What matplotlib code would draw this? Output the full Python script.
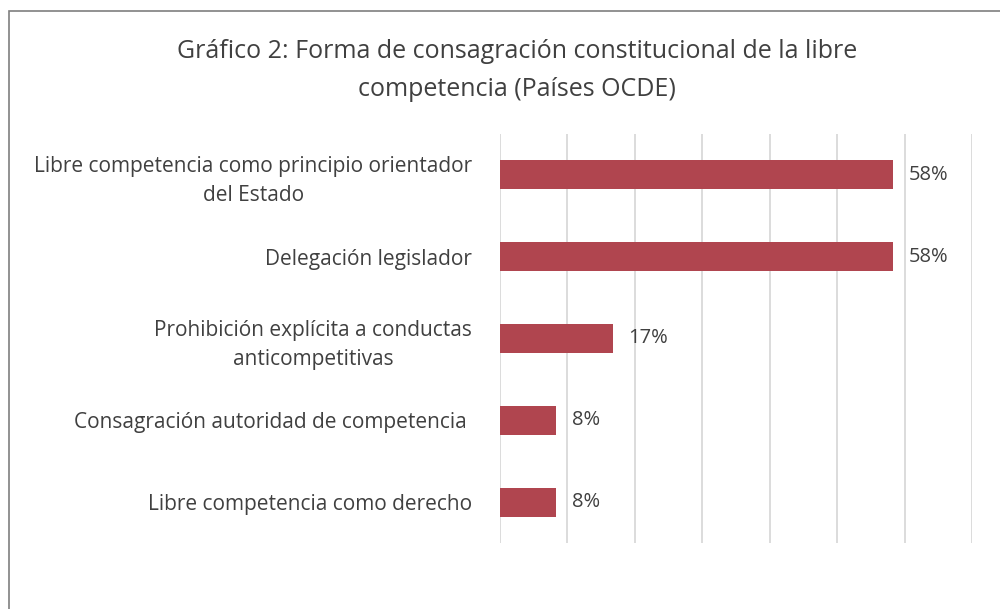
import numpy as np
import matplotlib.pyplot as plt
from matplotlib.patches import Rectangle

categories = [
    "Libre competencia como principio orientador\ndel Estado",
    "Delegación legislador",
    "Prohibición explícita a conductas\nanticompetitivas",
    "Consagración autoridad de competencia ",
    "Libre competencia como derecho",
]
values = [58.3, 58.3, 16.7, 8.3, 8.3]
value_labels = ["58%", "58%", "17%", "8%", "8%"]
title = "Gráfico 2: Forma de consagración constitucional de la libre\ncompetencia (Países OCDE)"

bar_color = "#B0454F"
text_color = "#404040"

plt.rcParams['font.family'] = ['Open Sans', 'DejaVu Sans']

fig = plt.figure(figsize=(10, 6.09), dpi=100)
ax = fig.add_axes([0.5, 0.1084, 0.472, 0.6716])

y = np.arange(len(categories))
ax.barh(y, values, height=0.355, color=bar_color, zorder=3)
ax.set_xlim(0, 70)
ax.set_ylim(len(categories) - 0.5, -0.5)
ax.set_xticks(np.arange(0, 71, 10))
ax.xaxis.grid(True, color="#D9D9D9", linewidth=1.3, zorder=0)
ax.tick_params(axis="x", length=0, labelbottom=False)
ax.tick_params(axis="y", length=0, pad=20, labelsize=15, labelcolor=text_color)
ax.set_yticks(y)
ax.set_yticklabels(categories)
for lab in ax.get_yticklabels():
    lab.set_multialignment("center")
    lab.set_linespacing(1.5)
for s in ax.spines.values():
    s.set_visible(False)

for yi, v, lab in zip(y, values, value_labels):
    ax.annotate(lab, (v, yi), xytext=(16, 0), textcoords="offset pixels",
                va="center", ha="left", fontsize=14.5, color=text_color)

fig.text(0.517, 0.884, title, ha="center", va="center", fontsize=18,
         color=text_color, linespacing=1.7)

# outer frame of the chart area
fig.patches.append(Rectangle((0.009, -0.1), 1.2, 1.1 - 0.018, transform=fig.transFigure,
                             fill=False, edgecolor="#7F7F7F", linewidth=1.2, clip_on=False))

fig.savefig("out.png", dpi=100)
